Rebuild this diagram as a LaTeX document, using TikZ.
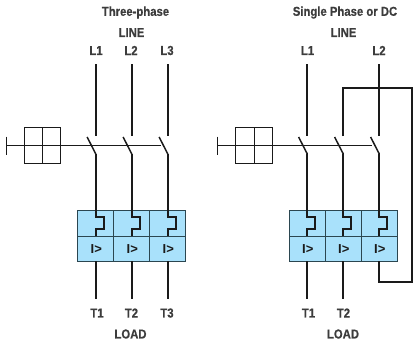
\documentclass[tikz,border=0pt]{standalone}
\usepackage{fontspec}
\newfontfamily\labfont[FakeStretch=0.87,FakeBold=0.5]{Liberation Sans Bold}
\newfontfamily\symfont{Liberation Sans Bold}
\definecolor{cellblue}{HTML}{A9E1FB}
\definecolor{cellline}{HTML}{2B4650}
\definecolor{ink}{HTML}{1A1A1A}
\tikzset{
  px/.style={x=1pt,y=-1pt},
  lab/.style={font=\fontsize{13}{13}\labfont,text=ink!85,inner sep=0pt,anchor=center},
  cell/.style={draw=cellline,line width=0.9pt,fill=cellblue,minimum width=36pt,minimum height=25.3pt,inner sep=0pt,outer sep=0pt},
  wire/.style={draw=ink,line width=2pt},
  blade/.style={draw=ink,line width=1.5pt},
  thin wire/.style={draw=ink,line width=0.9pt},
  gang/.style={draw=ink,line width=1pt},
  sym/.style={font=\fontsize{13}{13}\symfont,text=ink,inner sep=0pt}
}
\begin{document}
\begin{tikzpicture}[px]
\useasboundingbox (0,0) rectangle (414,346);
% ---------- left
\node[lab] at (135.5,12.5) (t1) {Three-phase};
\node[lab] at (131.5,32.5) (t2) {LINE};
\node[lab] at (96,50.5) (aL1) {L1};
\node[lab] at (131,50.5) (aL2) {L2};
\node[lab] at (167,50.5) (aL3) {L3};
\node[lab] at (97,313) (aT1) {T1};
\node[lab] at (131.5,313) (aT2) {T2};
\node[lab] at (167,313) (aT3) {T3};
\node[lab] at (130.5,334) (aLoad) {LOAD};
\foreach \n/\x in {a/95.8,b/131.8,c/167.8}{
  \node[cell] (\n u) at (\x,223.3) {};
  \node[cell] (\n d) at (\x,248.7) {};
  \node[sym] at (\x+0.5,249.5) {I>};
  \coordinate (\n top) at (\x,64);
  \coordinate (\n a) at (\x,136);
  \coordinate (\n h) at (\x-8.7,137);
  \coordinate (\n b) at (\x,154);
  \coordinate (\n bot) at (\x,299);
  \draw[wire] (\n top) -- (\n a);
  \draw[blade] (\n h) -- (\n b);
  \draw[wire,line cap=butt] (\n b) -- (\x,217.3) -- (\x+8,217.3) -- (\x+8,229.3) -- (\x,229.3) -- (\x,236);
  \draw[wire] (\n d.south) -- (\n bot);
}
\coordinate (atick) at (6,145.5);
\coordinate (aend) at (160.5,145.5);
\draw[gang] (6,136.5) -- (6,154.5);
\draw[thin wire] (atick) -- (aend);
\draw[gang] (24,127.5) rectangle (60.5,163.5);
\draw[gang] (42.3,127.5) -- (42.3,163.5);
% ---------- right
\node[lab] at (345,12.5) (s1) {Single Phase or DC};
\node[lab] at (343.5,32.5) (s2) {LINE};
\node[lab] at (307.5,50.5) (bL1) {L1};
\node[lab] at (379,50.5) (bL2) {L2};
\node[lab] at (308.5,313) (bT1) {T1};
\node[lab] at (343.5,313) (bT2) {T2};
\node[lab] at (343,334) (bLoad) {LOAD};
\foreach \n/\x in {p/307.3,q/343.3,r/379.3}{
  \node[cell] (\n u) at (\x,223.3) {};
  \node[cell] (\n d) at (\x,248.7) {};
  \node[sym] at (\x+0.5,249.5) {I>};
  \coordinate (\n a) at (\x,136);
  \coordinate (\n h) at (\x-8.7,137);
  \coordinate (\n b) at (\x,154);
  \coordinate (\n bot) at (\x,299);
  \draw[blade] (\n h) -- (\n b);
  \draw[wire,line cap=butt] (\n b) -- (\x,217.3) -- (\x+8,217.3) -- (\x+8,229.3) -- (\x,229.3) -- (\x,236);
}
\coordinate (ptop) at (307.3,64);
\coordinate (rtop) at (379.3,64);
\draw[wire] (ptop) -- (pa);
\draw[wire] (rtop) -- (ra);
\draw[wire] (qa) -- (343.3,88) -- (412,88) -- (412,282.3) -- (379.3,282.3) -- (rd.south);
\draw[wire] (pd.south) -- (pbot);
\draw[wire] (qd.south) -- (qbot);
\coordinate (btick) at (217.7,145.5);
\coordinate (bend) at (372,145.5);
\draw[gang] (217.7,136.5) -- (217.7,154.5);
\draw[thin wire] (btick) -- (bend);
\draw[gang] (235.5,127.5) rectangle (272.3,163.5);
\draw[gang] (254,127.5) -- (254,163.5);
\end{tikzpicture}
\end{document}
